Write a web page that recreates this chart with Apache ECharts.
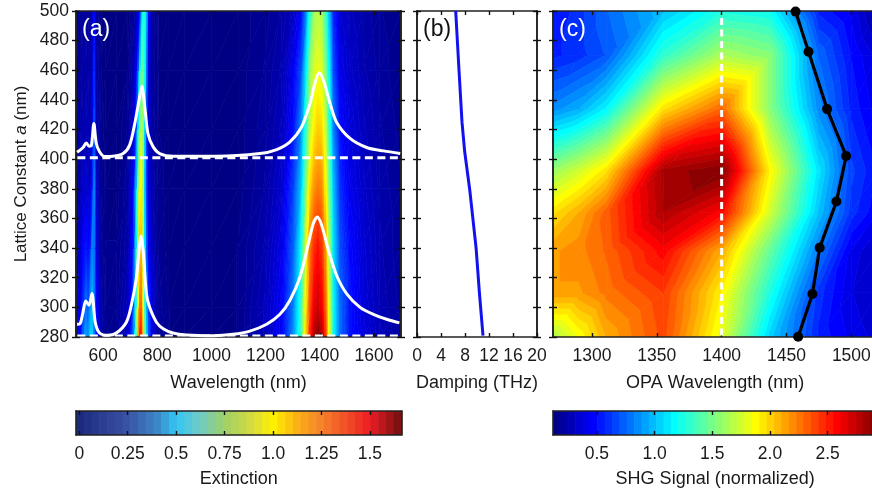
<!DOCTYPE html>
<html>
<head>
<meta charset="utf-8">
<script src="https://cdn.jsdelivr.net/npm/echarts@6/dist/echarts.min.js"></script>
<style>html,body{margin:0;padding:0;background:#fff}#c{width:872px;height:490px}</style>
</head>
<body>
<div id="c"></div>
<script>
// ---------- panel (a): extinction map, rows by lattice constant ----------
const wavelengths = [500,515,525,535,545,552,560,567,575,590,610,650,690,710,722,730,736,742,748,754,760,768,780,800,840,900,1000,1100,1200,1260,1300,1330,1350,1365,1380,1392,1405,1418,1432,1450,1475,1510,1560,1620,1700];
const ext280 = [.18,.2,.35,.48,.45,.55,.55,.4,.25,.08,.03,.04,.12,.35,.75,1.2,1.45,1.42,1.15,.85,.55,.35,.18,.06,.02,0,0,.02,.1,.2,.42,.72,1.12,1.42,1.6,1.67,1.6,1.42,1.05,.63,.38,.24,.16,.1,.06];
const ext300 = [.15,.17,.28,.4,.35,.45,.52,.4,.22,.07,.03,.03,.1,.28,.65,1.05,1.3,1.3,1.05,.75,.5,.3,.15,.05,.02,0,0,.02,.1,.2,.4,.7,1.08,1.35,1.5,1.55,1.5,1.35,1.03,.63,.38,.24,.15,.09,.05];
const ext340 = [.1,.12,.2,.24,.22,.25,.42,.4,.15,.05,.02,.02,.07,.22,.55,.95,1.15,1.15,.95,.6,.35,.2,.1,.04,.01,0,0,.02,.08,.17,.35,.62,1.0,1.28,1.4,1.45,1.4,1.25,.95,.58,.33,.22,.14,.08,.04];
const ext380 = [.07,.08,.12,.14,.12,.12,.25,.42,.12,.04,.01,.01,.05,.18,.48,.85,1.05,1.07,.9,.55,.3,.16,.08,.03,.01,0,0,.01,.06,.13,.3,.52,.85,1.12,1.23,1.27,1.25,1.1,.85,.52,.28,.18,.12,.07,.04];
const ext420 = [.06,.06,.08,.09,.08,.08,.14,.34,.08,.03,.01,.01,.03,.12,.3,.6,.85,.95,.88,.58,.3,.14,.06,.02,.01,0,0,.01,.05,.1,.22,.42,.72,.95,1.08,1.13,1.12,1.0,.75,.42,.22,.15,.1,.06,.03];
const ext460 = [.05,.05,.06,.07,.06,.06,.1,.28,.06,.02,.01,0,.02,.07,.18,.35,.62,.78,.8,.68,.4,.15,.05,.02,.01,0,0,.01,.04,.08,.18,.32,.6,.88,.98,1.02,1.0,.88,.65,.33,.17,.12,.08,.05,.02];
const ext500 = [.04,.04,.05,.05,.05,.05,.07,.22,.05,.02,.01,0,.01,.03,.08,.14,.2,.42,.65,.68,.5,.2,.06,.02,.01,0,0,.01,.03,.06,.1,.2,.42,.7,.88,.93,.92,.78,.55,.26,.13,.1,.07,.04,.02];
const latticeA = [280,300,340,380,420,460,500];
const extinction = [ext280,ext300,ext340,ext380,ext420,ext460,ext500];

// white spectra, plotted on the lattice axis
const spectrumLow = [[504,288.6],[515,289],[525,296],[536,304.3],[548,301.4],[559,309.3],[571,290],[587,282.7],[618,281.1],[649,282.7],[686,290],[705,302],[723,320],[733,338.6],[740,348.2],[748,338.6],[760,309],[772,300],[797,290],[822,285.6],[858,282.7],[908,281.4],[1006,280.9],[1080,281.8],[1142,284],[1204,288.6],[1253,295.3],[1290,304.8],[1327,320.5],[1358,343],[1376,356.6],[1391,361],[1407,355.5],[1432,338.6],[1462,321.7],[1499,309.3],[1549,300],[1598,295.3],[1647,292],[1694,289.5]];
const spectrumHigh = [[504,404.7],[526,407.9],[538,411],[548,408.8],[557,409.5],[566,424],[575,410.6],[587,405],[605,401.8],[636,402],[674,403.8],[698,409.5],[717,424],[733,440],[743,449.3],[754,435],[766,417],[785,408.3],[809,403.8],[858,402],[1019,402],[1179,403.8],[1241,406.5],[1290,411.7],[1333,421.8],[1364,437.6],[1382,451],[1398,458.3],[1416,452],[1438,437.6],[1462,425],[1512,414],[1573,407.9],[1635,405.6],[1697,403.8]];
const dashLow = [[505,281],[1690,281]];
const dashHigh = [[505,401],[1690,401]];

// ---------- panel (b) ----------
const dampingCurve = [[6.45,500],[7.0,460],[7.5,425],[7.95,405],[8.8,379],[9.85,340],[10.4,310],[11,281]];

// ---------- panel (c): SHG map ----------
const opaWavelengths = [1270,1290,1311,1355,1400,1437,1475,1500,1520];
const shgLattice = [280,310,338,364,392,434,470,500];
const shg280 = [1.65,1.85,2.1,2.38,1.8,1.05,.55,.42,.35];
const shg310 = [2.15,2.15,2.25,2.42,1.9,1.25,.6,.38,.3];
const shg338 = [2.15,2.2,2.3,2.58,2.1,1.45,.8,.42,.3];
const shg364 = [1.95,2.1,2.32,2.8,2.58,1.75,1.0,.6,.45];
const shg392 = [1.6,1.75,1.95,2.82,2.93,1.9,1.1,.65,.5];
const shg434 = [.85,.95,1.15,1.95,2.3,1.55,.85,.55,.4];
const shg470 = [.55,.6,.7,1.3,1.65,1.55,.75,.5,.35];
const shg500 = [.5,.6,.75,1.0,1.25,1.2,.55,.42,.2];
const shgMatrix = [shg280,shg310,shg338,shg364,shg392,shg434,shg470,shg500];
const peakCurve = [[1459,280.2],[1470,309],[1475.6,340.3],[1488.5,371.4],[1496,402.2],[1481.3,433.8],[1467,472.5],[1457,499.6]];
const dashOpa = [[1400,281],[1400,498]];

// ---------- tick labels ----------
const wlTicks = [600,800,1000,1200,1400,1600];
const opaTicks = [1300,1350,1400,1450,1500];
const extTicks = [0,0.25,0.5,0.75,1,1.25,1.5];
const extTickText = {0:'0',0.25:'0.25',0.5:'0.5',0.75:'0.75',1:'1.0',1.25:'1.25',1.5:'1.5'};
const shgTicks = [0.5,1,1.5,2,2.5];

// ---------- colour scales ----------
const jetStops = [[0,'#00007f'],[.125,'#0000ff'],[.375,'#00ffff'],[.625,'#ffff00'],[.875,'#ff0000'],[1,'#7f0000']];
const extBarStops = [[0,'#1c2a80'],[.25,'#3a53a4'],[.4,'#3c86c6'],[.5,'#32c5f4'],[.62,'#6fcbc8'],[.75,'#9fd066'],[.9,'#d8dc3c'],[1,'#fff200'],[1.12,'#fbb216'],[1.25,'#f5822a'],[1.5,'#ed1c24'],[1.663,'#701010']];

function hex(c){return [1,3,5].map(i=>parseInt(c.substr(i,2),16));}
function colorAt(stops,v){
  if(v<=stops[0][0])return stops[0][1];
  for(let i=1;i<stops.length;i++){
    if(v<=stops[i][0]){
      const a=stops[i-1],b=stops[i],t=(v-a[0])/(b[0]-a[0]);
      const A=hex(a[1]),B=hex(b[1]);
      return 'rgb('+A.map((x,j)=>Math.round(x+(B[j]-x)*t)).join(',')+')';
    }
  }
  return stops[stops.length-1][1];
}

// filled contours: each grid cell is split into triangles, each triangle clipped to the level bands
function clip(poly,val,keepAbove){
  const out=[];
  for(let i=0;i<poly.length;i++){
    const p=poly[i],q=poly[(i+1)%poly.length];
    const pin=keepAbove?p[2]>=val:p[2]<=val, qin=keepAbove?q[2]>=val:q[2]<=val;
    if(pin)out.push(p);
    if(pin!==qin){
      const t=(val-p[2])/(q[2]-p[2]);
      out.push([p[0]+(q[0]-p[0])*t,p[1]+(q[1]-p[1])*t,val]);
    }
  }
  return out;
}
function contourBands(xs,ys,Z,lo,hi,n){
  const polys=[],step=(hi-lo)/n;
  function tri(a,b,c){
    const mn=Math.min(a[2],b[2],c[2]),mx=Math.max(a[2],b[2],c[2]);
    let k0=Math.max(0,Math.floor((mn-lo)/step)),k1=Math.min(n-1,Math.floor((mx-lo)/step));
    if(mn<lo)k0=0;
    for(let k=k0;k<=k1;k++){
      let pts=[a,b,c];
      if(k>0)pts=clip(pts,lo+k*step,true);
      if(pts.length&&k<n-1)pts=clip(pts,lo+(k+1)*step,false);
      if(pts.length>=3)polys.push({k,pts});
    }
  }
  for(let j=0;j<ys.length-1;j++)for(let i=0;i<xs.length-1;i++){
    const p00=[xs[i],ys[j],Z[j][i]],p10=[xs[i+1],ys[j],Z[j][i+1]],p01=[xs[i],ys[j+1],Z[j+1][i]],p11=[xs[i+1],ys[j+1],Z[j+1][i+1]];
    tri(p00,p10,p11);tri(p00,p11,p01);
  }
  return polys;
}
function contourSeries(polys,lo,hi,n,xi,yi){
  const fills=[];
  for(let k=0;k<n;k++)fills.push(colorAt(jetStops,(k+.5)/n));
  return {
    type:'custom',xAxisIndex:xi,yAxisIndex:yi,z:1,silent:true,animation:false,progressive:0,clip:true,
    data:polys.map(p=>[p.pts[0][0],p.pts[0][1]]),
    encode:{x:0,y:1},
    renderItem:(params,api)=>{
      const p=polys[params.dataIndex];
      return {type:'polygon',shape:{points:p.pts.map(q=>api.coord([q[0],q[1]]))},
        style:{fill:fills[p.k],stroke:fills[p.k],lineWidth:.7}};
    }
  };
}
function barSeries(lo,hi,n,stops,xi,yi,scaled){
  const w=(hi-lo)/n,d=[];
  for(let i=0;i<n;i++)d.push([lo+i*w,lo+(i+1)*w]);
  return {
    type:'custom',xAxisIndex:xi,yAxisIndex:yi,z:1,silent:true,animation:false,
    data:d,encode:{x:[0,1]},
    renderItem:(params,api)=>{
      const a=api.coord([api.value(0),1]),b=api.coord([api.value(1),0]);
      const mid=(api.value(0)+api.value(1))/2;
      const t=scaled?(mid-lo)/(hi-lo):mid;
      return {type:'rect',shape:{x:a[0],y:a[1],width:b[0]-a[0]+.6,height:b[1]-a[1]},style:{fill:colorAt(stops,t)}};
    }
  };
}

const FONT='"Liberation Sans", Arial, sans-serif', INK='#1a1a1a', LINE='#222';
const tick=(inside,len,extra)=>Object.assign({show:true,inside,length:len,lineStyle:{color:'#111',width:1.4}},extra||{});

// axis builders
const xAxes=[],yAxes=[],grids=[];
function addGrid(g){grids.push(Object.assign({outerBoundsMode:'none',containLabel:false},g));return grids.length-1;}
function addX(gi,o,ticks,fmt){
  const common={type:'value',gridIndex:gi,min:o.min,max:o.max,splitLine:{show:false},z:5,
    axisLine:{show:true,onZero:false,lineStyle:{color:LINE,width:1.6}}};
  const tickExtra=ticks?{customValues:ticks}:{};
  const label={show:true,color:INK,fontFamily:FONT,fontSize:17.5,margin:o.margin||10,formatter:fmt||(v=>String(v))};
  if(ticks)label.customValues=ticks;
  xAxes.push(Object.assign({},common,{position:'bottom',interval:o.interval,axisTick:tick(true,4,tickExtra),axisLabel:label,
    name:o.name,nameLocation:'middle',nameGap:o.gap,nameTextStyle:{color:INK,fontFamily:FONT,fontSize:18}}));
  const bi=xAxes.length-1;
  xAxes.push(Object.assign({},common,{position:'top',interval:o.interval,axisTick:tick(true,4,tickExtra),axisLabel:{show:false}}));
  return bi;
}
function addY(gi,labels,name){
  const common={type:'value',gridIndex:gi,min:280,max:500,interval:20,splitLine:{show:false},z:5,
    axisLine:{show:true,onZero:false,lineStyle:{color:LINE,width:1.6}}};
  const idx=yAxes.length;
  const y0=Object.assign({},common,{position:'left',axisTick:tick(false,4),axisLabel:labels?{show:true,color:INK,fontFamily:FONT,fontSize:17.5,margin:7}:{show:false}});
  if(name){
    y0.name=name;y0.nameLocation='middle';y0.nameGap=46;
    y0.nameTextStyle={color:INK,fontFamily:FONT,fontSize:17,rich:{n:{fontFamily:FONT,fontSize:17,color:INK},i:{fontFamily:FONT,fontSize:17,color:INK,fontStyle:'italic'}}};
  }
  yAxes.push(y0);
  yAxes.push(Object.assign({},common,{position:'left',axisTick:tick(true,4),axisLabel:{show:false}}));
  yAxes.push(Object.assign({},common,{position:'right',axisTick:tick(false,4),axisLabel:{show:false}}));
  yAxes.push(Object.assign({},common,{position:'right',axisTick:tick(true,4),axisLabel:{show:false}}));
  return idx;
}
function addBar(gi,o,ticks,fmt){
  const xi=addX(gi,o,ticks,fmt);
  const yi=yAxes.length;
  const c={type:'value',gridIndex:gi,min:0,max:1,splitLine:{show:false},axisTick:{show:false},axisLabel:{show:false},z:5,
    axisLine:{show:true,onZero:false,lineStyle:{color:LINE,width:1.6}}};
  yAxes.push(Object.assign({},c,{position:'left'}));
  yAxes.push(Object.assign({},c,{position:'right'}));
  return [xi,yi];
}

const TOP=11,H=326;
const ga=addGrid({left:76,top:TOP,width:325,height:H});
const gb=addGrid({left:417,top:TOP,width:120,height:H});
const gc=addGrid({left:553,top:TOP,width:324.3,height:H});
const gda=addGrid({left:76,top:411,width:325.5,height:24});
const gdc=addGrid({left:553,top:411,width:324.3,height:24});

const xa=addX(ga,{min:500,max:1700,name:'Wavelength (nm)',gap:37},wlTicks);
const ya=addY(ga,true,'{n|Lattice Constant }{i|a}{n| (nm)}');
const xb=addX(gb,{min:0,max:20,interval:4,name:'Damping (THz)',gap:37});
const yb=addY(gb,false);
const xc=addX(gc,{min:1270,max:1520,name:'OPA Wavelength (nm)',gap:37},opaTicks);
const yc=addY(gc,false);
const [xda,yda]=addBar(gda,{min:-0.017,max:1.663,name:'Extinction',gap:35},extTicks,v=>extTickText[v]);
const [xdc,ydc]=addBar(gdc,{min:0.12,max:2.93,name:'SHG Signal (normalized)',gap:35},shgTicks,v=>v.toFixed(1));

const extPolys=contourBands(wavelengths,latticeA,extinction,0,1.68,90);
const shgPolys=contourBands(opaWavelengths,shgLattice,shgMatrix,0.12,2.93,44);

const white=(d,w,dash)=>({type:'line',data:d,xAxisIndex:xa,yAxisIndex:ya,z:6,symbol:'none',smooth:dash?false:0.3,animation:false,silent:true,clip:true,
  lineStyle:{color:'#fff',width:w,type:dash?[8,4.5]:'solid',cap:'butt',join:'round'}});

const option={
  backgroundColor:'#fff',animation:false,
  grid:grids,xAxis:xAxes,yAxis:yAxes,
  series:[
    contourSeries(extPolys,0,1.68,90,xa,ya),
    white(spectrumLow,3),
    white(spectrumHigh,3),
    white(dashHigh,3,true),
    white(dashLow,2,true),
    {type:'line',data:dampingCurve,xAxisIndex:xb,yAxisIndex:yb,z:6,symbol:'none',animation:false,silent:true,lineStyle:{color:'#1212f0',width:3}},
    contourSeries(shgPolys,0.12,2.93,44,xc,yc),
    {type:'line',data:dashOpa,xAxisIndex:xc,yAxisIndex:yc,z:6,symbol:'none',animation:false,silent:true,lineStyle:{color:'#fff',width:3,type:[7,4.5],cap:'butt'}},
    {type:'line',data:peakCurve,xAxisIndex:xc,yAxisIndex:yc,z:7,clip:false,symbol:'circle',symbolSize:10,animation:false,silent:true,
      lineStyle:{color:'#000',width:3.2},itemStyle:{color:'#000'}},
    barSeries(-0.017,1.663,42,extBarStops,xda,yda,false),
    barSeries(0.12,2.93,44,jetStops,xdc,ydc,true)
  ],
  graphic:[
    {type:'text',left:82,top:18,z:20,style:{text:'(a)',fill:'#fff',font:'23px '+FONT}},
    {type:'text',left:423,top:18,z:20,style:{text:'(b)',fill:'#111',font:'23px '+FONT}},
    {type:'text',left:559,top:18,z:20,style:{text:'(c)',fill:'#fff',font:'23px '+FONT}}
  ]
};
echarts.init(document.getElementById('c'),null,{renderer:'canvas'}).setOption(option);
</script>
</body>
</html>
